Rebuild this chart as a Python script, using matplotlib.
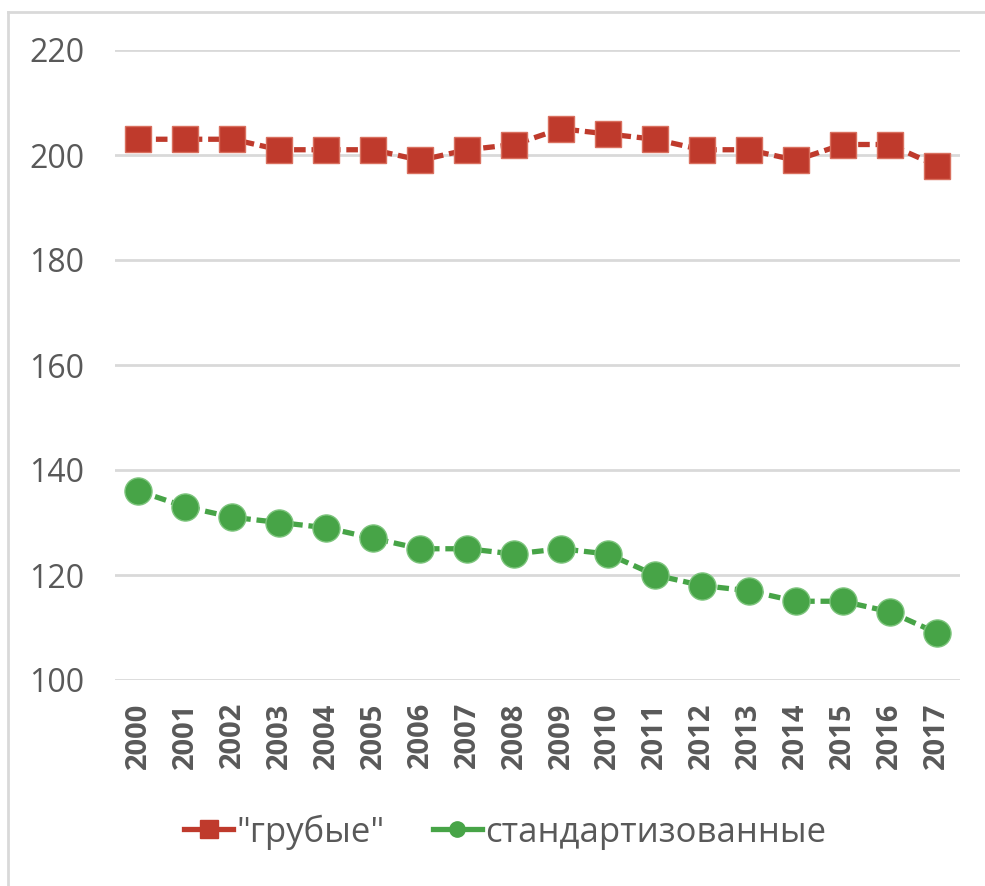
import matplotlib
matplotlib.use("Agg")
import matplotlib.pyplot as plt
from matplotlib.lines import Line2D

years = ["2000", "2001", "2002", "2003", "2004", "2005", "2006", "2007", "2008",
         "2009", "2010", "2011", "2012", "2013", "2014", "2015", "2016", "2017"]
crude = [203, 203, 203, 201, 201, 201, 199, 201, 202,
         205, 204, 203, 201, 201, 199, 202, 202, 198]
standardized = [136, 133, 131, 130, 129, 127, 125, 125, 124,
                125, 124, 120, 118, 117, 115, 115, 113, 109]
y_ticks = [100, 120, 140, 160, 180, 200, 220]
labels = ['"грубые"', "стандартизованные"]

red = "#BF3A2C"
green = "#47A447"
grid_col = "#D9D9D9"
text_col = "#595959"

plt.rcParams["font.family"] = ["Open Sans", "DejaVu Sans"]

fig = plt.figure(figsize=(9.85, 8.86), dpi=100)
ax = fig.add_axes([115 / 985, 1 - 680 / 886, 845 / 985, 630 / 886])

x = list(range(len(years)))
ax.plot(x, crude, color=red, lw=3.8, ls=(0, (2.2, 1.1)), marker="s", ms=19,
        mfc=red, mec="#D9705F", mew=1.0, zorder=3)
ax.plot(x, standardized, color=green, lw=3.8, ls=(0, (2.2, 1.1)), marker="o", ms=19.5,
        mfc=green, mec="#7CC47C", mew=1.0, zorder=3)

ax.set_xlim(-0.5, len(years) - 0.5)
ax.set_ylim(100, 220)
ax.set_yticks(y_ticks)
ax.set_xticks(x)
ax.set_xticklabels(years, rotation=90, fontweight="bold", fontsize=21, color=text_col)
ax.tick_params(axis="y", labelsize=23, colors=text_col, length=0, pad=22)
ax.tick_params(axis="x", length=0, pad=16)
ax.grid(axis="y", color=grid_col, lw=2)
for s in ax.spines.values():
    s.set_visible(False)
ax.set_axisbelow(True)

# outer frame edges along top and left
fig.add_artist(Line2D([8 / 985, 1], [1 - 12 / 886, 1 - 12 / 886], color="#D9D9D9", lw=2,
                      transform=fig.transFigure))
fig.add_artist(Line2D([8 / 985, 8 / 985], [0, 1 - 12 / 886], color="#D9D9D9", lw=2,
                      transform=fig.transFigure))

handles = [
    Line2D([], [], color=red, lw=3.8, marker="s", ms=13, mfc=red, mec=red),
    Line2D([], [], color=green, lw=3.8, marker="o", ms=11, mfc=green, mec=green),
]
fig.legend(handles, labels, loc="center", bbox_to_anchor=(0.513, 1 - 832 / 886), ncol=2,
           frameon=False, fontsize=25, handlelength=1.4, handletextpad=0.1,
           columnspacing=1.4, labelcolor=text_col)

fig.savefig("out.png", dpi=100, facecolor="white")
